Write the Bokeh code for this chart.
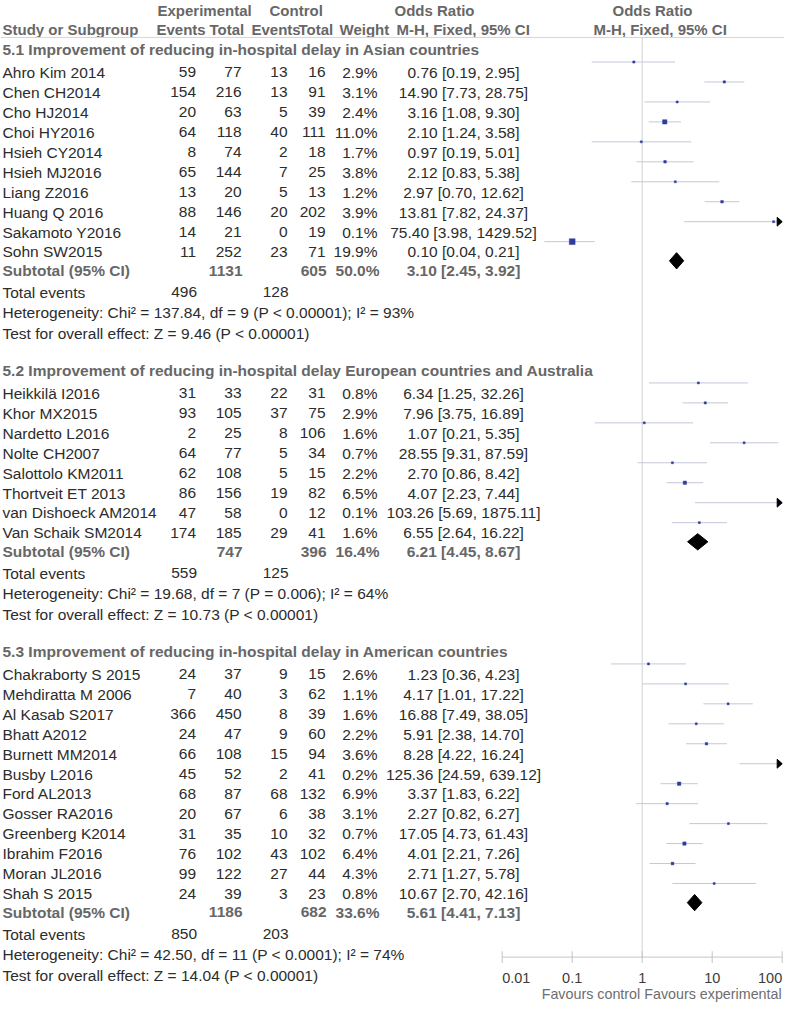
import numpy as np
from bokeh.plotting import figure
from bokeh.models import Range1d, LogScale
from bokeh.core.properties import value
from bokeh.embed import file_html
from bokeh.resources import INLINE

# ---------------- data ----------------
titles = [
    "5.1 Improvement of reducing in-hospital delay in Asian countries",
    "5.2 Improvement of reducing in-hospital delay European countries and Australia",
    "5.3 Improvement of reducing in-hospital delay in American countries",
]

studies1 = ["Ahro Kim 2014", "Chen CH2014", "Cho HJ2014", "Choi HY2016", "Hsieh CY2014",
            "Hsieh MJ2016", "Liang Z2016", "Huang Q 2016", "Sakamoto Y2016", "Sohn SW2015"]
exp_ev1 = [59, 154, 20, 64, 8, 65, 13, 88, 14, 11]
exp_tot1 = [77, 216, 63, 118, 74, 144, 20, 146, 21, 252]
ctl_ev1 = [13, 13, 5, 40, 2, 7, 5, 20, 0, 23]
ctl_tot1 = [16, 91, 39, 111, 18, 25, 13, 202, 19, 71]
weight1 = [2.9, 3.1, 2.4, 11.0, 1.7, 3.8, 1.2, 3.9, 0.1, 19.9]
or1 = [0.76, 14.90, 3.16, 2.10, 0.97, 2.12, 2.97, 13.81, 75.40, 0.10]
lo1 = [0.19, 7.73, 1.08, 1.24, 0.19, 0.83, 0.70, 7.82, 3.98, 0.04]
hi1 = [2.95, 28.75, 9.30, 3.58, 5.01, 5.38, 12.62, 24.37, 1429.52, 0.21]

studies2 = ["Heikkilä I2016", "Khor MX2015", "Nardetto L2016", "Nolte CH2007", "Salottolo KM2011",
            "Thortveit ET 2013", "van Dishoeck AM2014", "Van Schaik SM2014"]
exp_ev2 = [31, 93, 2, 64, 62, 86, 47, 174]
exp_tot2 = [33, 105, 25, 77, 108, 156, 58, 185]
ctl_ev2 = [22, 37, 8, 5, 5, 19, 0, 29]
ctl_tot2 = [31, 75, 106, 34, 15, 82, 12, 41]
weight2 = [0.8, 2.9, 1.6, 0.7, 2.2, 6.5, 0.1, 1.6]
or2 = [6.34, 7.96, 1.07, 28.55, 2.70, 4.07, 103.26, 6.55]
lo2 = [1.25, 3.75, 0.21, 9.31, 0.86, 2.23, 5.69, 2.64]
hi2 = [32.26, 16.89, 5.35, 87.59, 8.42, 7.44, 1875.11, 16.22]

studies3 = ["Chakraborty S 2015", "Mehdiratta M 2006", "Al Kasab S2017", "Bhatt A2012",
            "Burnett MM2014", "Busby L2016", "Ford AL2013", "Gosser RA2016", "Greenberg K2014",
            "Ibrahim F2016", "Moran JL2016", "Shah S 2015"]
exp_ev3 = [24, 7, 366, 24, 66, 45, 68, 20, 31, 76, 99, 24]
exp_tot3 = [37, 40, 450, 47, 108, 52, 87, 67, 35, 102, 122, 39]
ctl_ev3 = [9, 3, 8, 9, 15, 2, 68, 6, 10, 43, 27, 3]
ctl_tot3 = [15, 62, 39, 60, 94, 41, 132, 38, 32, 102, 44, 23]
weight3 = [2.6, 1.1, 1.6, 2.2, 3.6, 0.2, 6.9, 3.1, 0.7, 6.4, 4.3, 0.8]
or3 = [1.23, 4.17, 16.88, 5.91, 8.28, 125.36, 3.37, 2.27, 17.05, 4.01, 2.71, 10.67]
lo3 = [0.36, 1.01, 7.49, 2.38, 4.22, 24.59, 1.83, 0.82, 4.73, 2.21, 1.27, 2.70]
hi3 = [4.23, 17.22, 38.05, 14.70, 16.24, 639.12, 6.22, 6.27, 61.43, 7.26, 5.78, 42.16]

sub_exp_tot = [1131, 747, 1186]
sub_ctl_tot = [605, 396, 682]
sub_weight = [50.0, 16.4, 33.6]
sub_or = [3.10, 6.21, 5.61]
sub_lo = [2.45, 4.45, 4.41]
sub_hi = [3.92, 8.67, 7.13]
tot_exp_ev = [496, 559, 850]
tot_ctl_ev = [128, 125, 203]
het_text = [
    "Heterogeneity: Chi² = 137.84, df = 9 (P < 0.00001); I² = 93%",
    "Heterogeneity: Chi² = 19.68, df = 7 (P = 0.006); I² = 64%",
    "Heterogeneity: Chi² = 42.50, df = 11 (P < 0.0001); I² = 74%",
]
test_text = [
    "Test for overall effect: Z = 9.46 (P < 0.00001)",
    "Test for overall effect: Z = 10.73 (P < 0.00001)",
    "Test for overall effect: Z = 14.04 (P < 0.00001)",
]

tick_values = [0.01, 0.1, 1, 10, 100]
tick_labels = ["0.01", "0.1", "1", "10", "100"]
favours = ["Favours control", "Favours experimental"]

sections = [
    (studies1, exp_ev1, exp_tot1, ctl_ev1, ctl_tot1, weight1, or1, lo1, hi1),
    (studies2, exp_ev2, exp_tot2, ctl_ev2, ctl_tot2, weight2, or2, lo2, hi2),
    (studies3, exp_ev3, exp_tot3, ctl_ev3, ctl_tot3, weight3, or3, lo3, hi3),
]

# ---------------- layout / style ----------------
FONT = value("Liberation Sans")
FS = "15.5px"
HS = "15px"
TXT = "#2c2c2c"
GRAY = "#676767"
BLUE = "#2E3C9E"
CI_COL = "#c5c7da"
LINE_GRAY = "#d3d3d3"

X_ONE = 649.7      # pixel position of OR = 1
PPD = 70.0         # pixels per decade
X_LEFT, X_RIGHT = 8, 792
AX_MIN, AX_MAX = tick_values[0], tick_values[-1]

p = figure(width=784, height=1004, output_backend="svg", toolbar_location=None,
           x_range=Range1d(X_LEFT, X_RIGHT), y_range=Range1d(1020.3, -3.2),
           x_axis_location=None, y_axis_location=None, min_border=0)
p.grid.visible = False
p.outline_line_color = None
p.background_fill_color = "white"
p.border_fill_color = "white"
p.extra_x_ranges = {"or": Range1d(10 ** ((X_LEFT - X_ONE) / PPD), 10 ** ((X_RIGHT - X_ONE) / PPD))}
p.extra_x_scales = {"or": LogScale()}


def txt(x, y, s, align="left", bold=False, color=TXT, size=FS, **kw):
    p.text(x=x, y=y, text=s, text_font=FONT, text_font_size=size,
           text_font_style="bold" if bold else "normal", text_color=color,
           text_align=align, text_baseline="middle", **kw)


# header
txt([165, 277, 402], [7, 7, 7], ["Experimental", "Control", "Odds Ratio"], bold=True, color=GRAY, size=HS)
txt([620], [7], ["Odds Ratio"], bold=True, color=GRAY, size=HS)
txt([10, 164, 217, 259, 306, 347, 404, 601], [26] * 8,
    ["Study or Subgroup", "Events", "Total", "Events", "Total", "Weight",
     "M-H, Fixed, 95% CI", "M-H, Fixed, 95% CI"], bold=True, color=GRAY, size=HS)
p.segment(x0=[X_LEFT], x1=[X_RIGHT], y0=[34.5], y1=[34.5], line_color="#d6d6d6", line_width=1)

AXIS_Y = 972
# line of no effect
p.segment(x0=[1], x1=[1], y0=[34.5], y1=[AXIS_Y], x_range_name="or", line_color=LINE_GRAY, line_width=1)

COLS = dict(ev_e=203.5, tot_e=249, ev_c=295, tot_c=333, w=385, orc=471)
MARK_UP = 10.5

y = 47.0
for k, (names, ee, et, ce, ct, w, o, lo, hi) in enumerate(sections):
    n = len(names)
    txt([10], [y], [titles[k]], bold=True, color=GRAY)
    ys = y + 23 + 20.35 * np.arange(n)
    txt([10] * n, ys, names)
    txt([COLS["ev_e"]] * n, ys, [str(v) for v in ee], align="right")
    txt([COLS["tot_e"]] * n, ys, [str(v) for v in et], align="right")
    txt([COLS["ev_c"]] * n, ys, [str(v) for v in ce], align="right")
    txt([COLS["tot_c"]] * n, ys, [str(v) for v in ct], align="right")
    txt([COLS["w"]] * n, ys, [f"{v:.1f}%" for v in w], align="right")
    txt([COLS["orc"]] * n, ys, [f"{a:.2f} [{b:.2f}, {c:.2f}]" for a, b, c in zip(o, lo, hi)], align="center")

    # forest marks
    ym = ys - MARK_UP
    o_a, lo_a, hi_a = np.array(o, float), np.array(lo, float), np.array(hi, float)
    p.segment(x0=np.clip(lo_a, AX_MIN, AX_MAX), x1=np.clip(hi_a, AX_MIN, AX_MAX), y0=ym, y1=ym,
              x_range_name="or", line_color=CI_COL, line_width=1)
    inside = (o_a >= AX_MIN) & (o_a <= AX_MAX)
    sizes = np.maximum(2.0, 1.3 * np.sqrt(np.array(w, float)))
    p.scatter(x=o_a[inside], y=ym[inside], size=sizes[inside], marker="square",
              fill_color=BLUE, line_color=BLUE, line_width=0.5, x_range_name="or")
    over = hi_a > AX_MAX
    if over.any():
        base = AX_MAX / 10 ** (5 / PPD)
        p.patches(xs=[[base, AX_MAX, base] for _ in ym[over]],
                  ys=[[yy - 4.5, yy, yy + 4.5] for yy in ym[over]],
                  x_range_name="or", fill_color="black", line_color="black")

    sub_y = ys[-1] + 19
    txt([10], [sub_y], ["Subtotal (95% CI)"], bold=True, color=GRAY)
    txt([COLS["tot_e"] + 1, COLS["tot_c"] + 1, COLS["w"] + 2], [sub_y] * 3,
        [str(sub_exp_tot[k]), str(sub_ctl_tot[k]), f"{sub_weight[k]:.1f}%"],
        align="right", bold=True, color=GRAY)
    txt([COLS["orc"]], [sub_y], [f"{sub_or[k]:.2f} [{sub_lo[k]:.2f}, {sub_hi[k]:.2f}]"],
        align="center", bold=True, color=GRAY)
    dy = sub_y - 10
    p.patches(xs=[[sub_lo[k], sub_or[k], sub_hi[k], sub_or[k]]],
              ys=[[dy, dy - 8.3, dy, dy + 8.3]], x_range_name="or",
              fill_color="black", line_color="black")

    tot_y = sub_y + 22
    txt([10], [tot_y], ["Total events"])
    txt([COLS["ev_e"] + 1, COLS["ev_c"] + 1], [tot_y] * 2,
        [str(tot_exp_ev[k]), str(tot_ctl_ev[k])], align="right")
    het_y = tot_y + 21
    txt([10], [het_y], [het_text[k]])
    test_y = het_y + 21
    txt([10], [test_y], [test_text[k]])
    y = test_y + 38

# axis drawn through the log scale
p.segment(x0=[AX_MIN], x1=[AX_MAX], y0=[AXIS_Y], y1=[AXIS_Y], x_range_name="or",
          line_color="#c4c4c4", line_width=1)
p.segment(x0=tick_values, x1=tick_values, y0=[AXIS_Y - 6] * 5, y1=[AXIS_Y + 6] * 5,
          x_range_name="or", line_color="#c4c4c4", line_width=1)
LBL_Y = 993
TS = "14.5px"
txt([tick_values[0]], [LBL_Y], [tick_labels[0]], align="left", color="#3c3c3c", size=TS, x_range_name="or")
txt(tick_values[1:-1], [LBL_Y] * 3, tick_labels[1:-1], align="center", color="#3c3c3c", size=TS, x_range_name="or")
txt([tick_values[-1]], [LBL_Y], [tick_labels[-1]], align="right", color="#3c3c3c", size=TS, x_range_name="or")
txt([1], [1010], [favours[0]], align="right", color="#6e6e6e", size="14.3px", x_range_name="or", x_offset=-2)
txt([1], [1010], [favours[1]], align="left", color="#6e6e6e", size="14.3px", x_range_name="or", x_offset=2)

with open("out.html", "w", encoding="utf-8") as f:
    f.write(file_html(p, INLINE))
